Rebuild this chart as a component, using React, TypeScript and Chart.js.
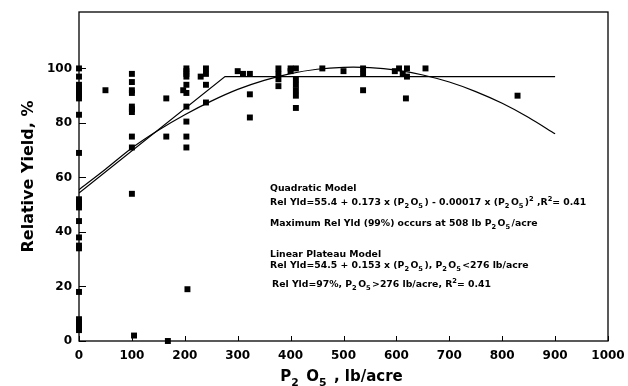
import React, { useEffect, useRef } from 'react';
import { Chart, registerables } from 'chart.js';
Chart.register(...registerables);

// ---- data ----
const xTickValues = [0, 100, 200, 300, 400, 500, 600, 700, 800, 900, 1000];
const yTickValues = [0, 20, 40, 60, 80, 100];

const obsX = [
  0, 0, 0, 0, 0, 0, 0, 0, 0, 0, 0, 0, 0, 0, 0, 0, 0, 0, 0, 0, 0, 0, 0, 0,
  50,
  100, 100, 100, 100, 100, 100, 100, 100, 100, 100, 104,
  165, 165, 168,
  203, 203, 203, 203, 203, 203, 203, 203, 203, 203, 197, 205,
  240, 240, 230, 240, 240,
  300, 310, 323, 323, 323,
  377, 377, 377, 377,
  400, 400, 410, 410, 410, 410, 410, 410,
  460, 500, 537, 537, 537,
  597, 605, 612, 620, 620, 618, 655, 829,
];
const obsY = [
  100, 97, 94, 93, 92, 91, 90, 89, 83, 69, 52, 51, 50, 49, 44, 38, 35, 34, 18, 8, 7, 6, 5, 4,
  92,
  98, 95, 92, 91, 86, 85, 84, 75, 71, 54, 2,
  89, 75, 0,
  100, 99, 98, 97, 94, 91, 86, 80.5, 75, 71, 92, 19,
  100, 98, 97, 94, 87.5,
  99, 98, 98, 90.5, 82,
  100, 98, 96, 93.5,
  100, 99, 100, 96, 94, 92, 90, 85.5,
  100, 99, 100, 98, 92,
  99, 100, 98, 100, 97, 89, 100, 90,
];

const quadX = [0, 50, 100, 150, 200, 250, 300, 350, 400, 450, 500, 550, 600, 650, 700, 750, 800, 850, 900];
const quadY = [55.5, 63, 70.8, 77.3, 83, 88, 92.3, 95.6, 98.1, 99.7, 100.4, 100.3, 99.4, 97.6, 95, 91.5, 87.2, 82, 76];

const plateauX = [0, 276, 900];
const plateauY = [54.3, 97, 97];

// text: [text, kind] kind 0 = normal, 1 = subscript, 2 = superscript
type Seg = [string, number];
const xTitle: Seg[] = [['P', 0], ['2', 1], [' O', 0], ['5', 1], [' , lb/acre', 0]];
const yTitle = 'Relative Yield, %';
const noteLines: Seg[][] = [
  [['Quadratic Model', 0]],
  [['Rel Yld=55.4 + 0.173 x (P', 0], ['2', 1], ['O', 0], ['5', 1], [') - 0.00017 x (P', 0], ['2', 1], ['O', 0], ['5', 1], [')', 0], ['2', 2], [' ,R', 0], ['2', 2], ['= 0.41', 0]],
  [['Maximum Rel Yld (99%) occurs at 508 lb P', 0], ['2', 1], ['O', 0], ['5', 1], ['/acre', 0]],
  [['Linear Plateau Model', 0]],
  [['Rel Yld=54.5 + 0.153 x (P', 0], ['2', 1], ['O', 0], ['5', 1], ['), P', 0], ['2', 1], ['O', 0], ['5', 1], ['<276 lb/acre', 0]],
  [['Rel Yld=97%, P', 0], ['2', 1], ['O', 0], ['5', 1], ['>276 lb/acre, R', 0], ['2', 2], ['= 0.41', 0]],
];

const FONT = '"DejaVu Sans"';

function drawRich(ctx: CanvasRenderingContext2D, segs: Seg[], x: number, y: number, size: number, center = false) {
  const parts = segs.map(([t, k]) => {
    const s = k === 0 ? size : size * 0.72;
    ctx.font = `bold ${s}px ${FONT}`;
    const w = ctx.measureText(t).width + (k === 1 ? size * 0.15 : 0);
    return { t, k, s, w };
  });
  let cx = x;
  if (center) cx = x - parts.reduce((a, p) => a + p.w, 0) / 2;
  for (const p of parts) {
    ctx.font = `bold ${p.s}px ${FONT}`;
    const dy = p.k === 1 ? size * 0.32 : p.k === 2 ? -size * 0.42 : 0;
    ctx.fillText(p.t, cx, y + dy);
    cx += p.w;
  }
}

const decorPlugin = {
  id: 'decor',
  beforeDatasetsDraw(chart: any) {
    const { ctx, chartArea } = chart;
    const { left, top, right, bottom } = chartArea;
    const xs = chart.scales.x;
    const ys = chart.scales.y;
    ctx.save();
    ctx.strokeStyle = '#000';
    ctx.lineWidth = 1.3;
    ctx.strokeRect(left, top, right - left, bottom - top);
    ctx.lineWidth = 1;
    ctx.beginPath();
    for (const v of xTickValues) {
      const px = Math.round(xs.getPixelForValue(v)) + 0.5;
      ctx.moveTo(px, bottom);
      ctx.lineTo(px, bottom - 5);
    }
    for (const v of yTickValues) {
      const py = Math.round(ys.getPixelForValue(v)) + 0.5;
      ctx.moveTo(left, py);
      ctx.lineTo(left + 7, py);
    }
    ctx.stroke();
    ctx.restore();
  },
  afterDraw(chart: any) {
    const { ctx, chartArea } = chart;
    ctx.save();
    ctx.fillStyle = '#000';
    ctx.textBaseline = 'alphabetic';
    ctx.textAlign = 'left';
    // x title
    drawRich(ctx, xTitle, (chartArea.left + chartArea.right) / 2 - 2, 381, 15, true);
    // y title
    ctx.save();
    ctx.translate(29, (chartArea.top + chartArea.bottom) / 2);
    ctx.rotate(-Math.PI / 2);
    ctx.font = `bold 16px ${FONT}`;
    ctx.textAlign = 'center';
    ctx.textBaseline = 'middle';
    ctx.fillText(yTitle, 0, 0);
    ctx.restore();
    // notes
    const xs = [270, 270, 270, 270, 270, 272];
    const ys = [191, 205, 226, 257, 268, 287];
    noteLines.forEach((segs, i) => drawRich(ctx, segs, xs[i], ys[i], 9.3));
    ctx.restore();
  },
};

export default function App() {
  const ref = useRef<HTMLCanvasElement>(null);
  useEffect(() => {
    if (!ref.current) return;
    const chart = new Chart(ref.current, {
      type: 'scatter',
      data: {
        datasets: [
          {
            label: 'Observed',
            data: obsX.map((x, i) => ({ x, y: obsY[i] })),
            pointStyle: 'rect',
            pointRadius: 4.2,
            pointBorderWidth: 0,
            backgroundColor: '#000',
            borderColor: '#000',
            clip: false,
          },
          {
            label: 'Quadratic',
            data: quadX.map((x, i) => ({ x, y: quadY[i] })),
            showLine: true,
            borderColor: '#000',
            borderWidth: 1.2,
            pointRadius: 0,
            tension: 0.3,
          },
          {
            label: 'Linear plateau',
            data: plateauX.map((x, i) => ({ x, y: plateauY[i] })),
            showLine: true,
            borderColor: '#000',
            borderWidth: 1.2,
            pointRadius: 0,
            tension: 0,
          },
        ],
      },
      options: {
        animation: false,
        responsive: true,
        maintainAspectRatio: false,
        layout: { padding: { top: 12, right: 20, left: 0, bottom: 0 } },
        plugins: { legend: { display: false }, tooltip: { enabled: false } },
        scales: {
          x: {
            type: 'linear',
            min: 0,
            max: 1000,
            afterBuildTicks: (s: any) => { s.ticks = xTickValues.map((v) => ({ value: v })); },
            afterFit: (s: any) => { s.height = 45; s.paddingLeft = 0; s.paddingRight = 0; },
            grid: { display: false, drawTicks: false },
            border: { display: false },
            ticks: {
              color: '#000', padding: 8, maxRotation: 0,
              callback: (v: any) => String(v),
              font: { family: 'DejaVu Sans', weight: 'bold', size: 12 },
            },
          },
          y: {
            type: 'linear',
            min: 0,
            max: 120.7,
            afterBuildTicks: (s: any) => { s.ticks = yTickValues.map((v) => ({ value: v })); },
            afterFit: (s: any) => { s.width = 79; s.paddingTop = 0; s.paddingBottom = 0; },
            grid: { display: false, drawTicks: false },
            border: { display: false },
            ticks: {
              color: '#000', padding: 7,
              callback: (v: any) => String(v),
              font: { family: 'DejaVu Sans', weight: 'bold', size: 12 },
            },
          },
        },
      },
      plugins: [decorPlugin],
    });
    return () => chart.destroy();
  }, []);
  return (
    <div style={{ position: 'absolute', left: 0, top: 0, width: 628, height: 386, background: '#fff' }}>
      <canvas ref={ref} />
    </div>
  );
}
